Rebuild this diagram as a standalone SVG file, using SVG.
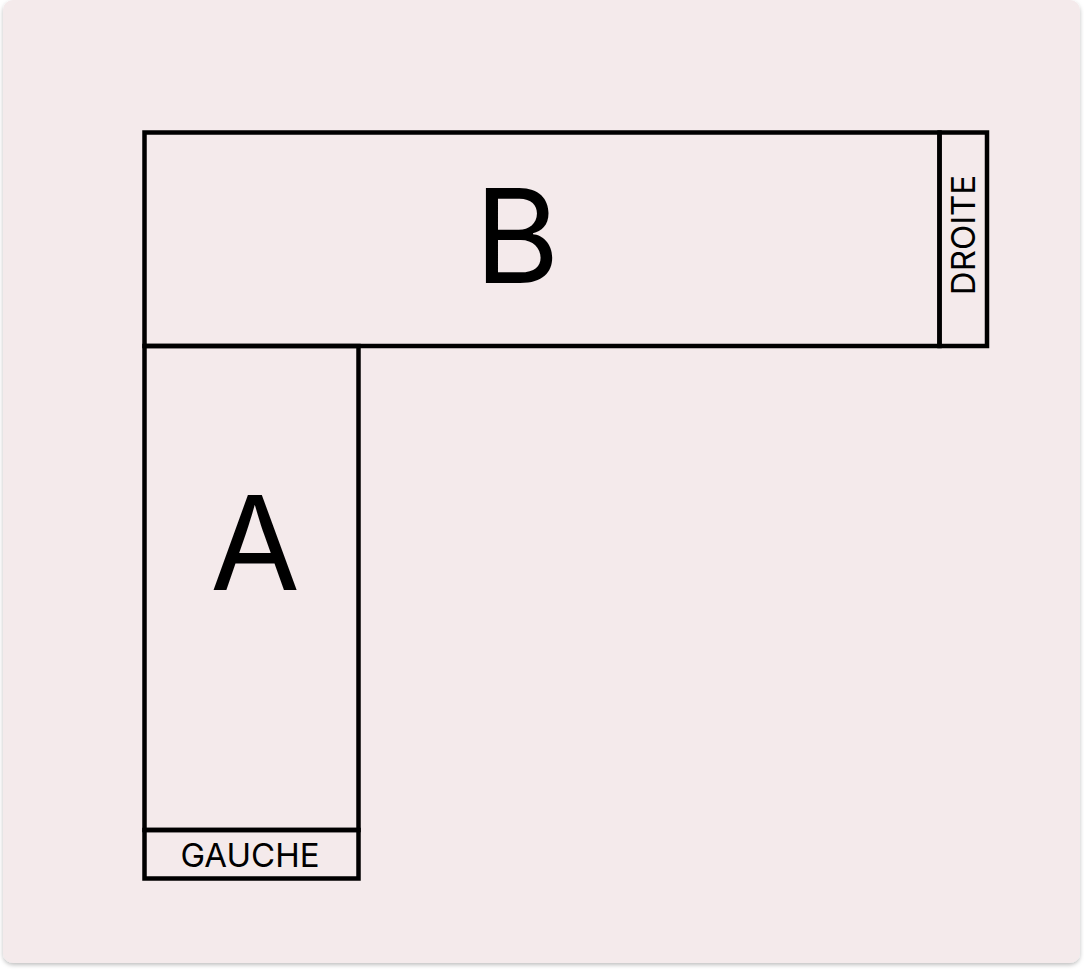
<svg xmlns="http://www.w3.org/2000/svg" width="1084" height="971" viewBox="0 0 1084 971">
<defs>
<filter id="sh" x="-5%" y="-5%" width="110%" height="110%">
<feDropShadow dx="0" dy="2" stdDeviation="2" flood-color="#000" flood-opacity="0.25"/>
</filter>
<style>
.box{fill:none;stroke:#000;stroke-width:4.5}
.big{font-family:Inter,"Liberation Sans",sans-serif;font-size:130px;fill:#000;text-anchor:middle}
.small{font-family:Inter,"Liberation Sans",sans-serif;font-size:33px;fill:#000;text-anchor:middle}
</style>
</defs>
<rect x="3" y="0" width="1077" height="963" rx="10" fill="#f4eaeb" filter="url(#sh)"/>
<g id="B">
<rect class="box" x="144.5" y="132.5" width="795" height="213.5"/>
<text class="big" x="517" y="283">B</text>
</g>
<g id="DROITE">
<rect class="box" x="939.5" y="132.5" width="47.5" height="213.5"/>
<text class="small" transform="translate(975,235) rotate(-90)">DROITE</text>
</g>
<g id="A">
<rect class="box" x="144.5" y="346" width="214" height="484"/>
<text class="big" x="255" y="590">A</text>
</g>
<g id="GAUCHE">
<rect class="box" x="144.5" y="830" width="214" height="48.5"/>
<text class="small" x="250" y="867">GAUCHE</text>
</g>
<g id="connectors"/>
</svg>
